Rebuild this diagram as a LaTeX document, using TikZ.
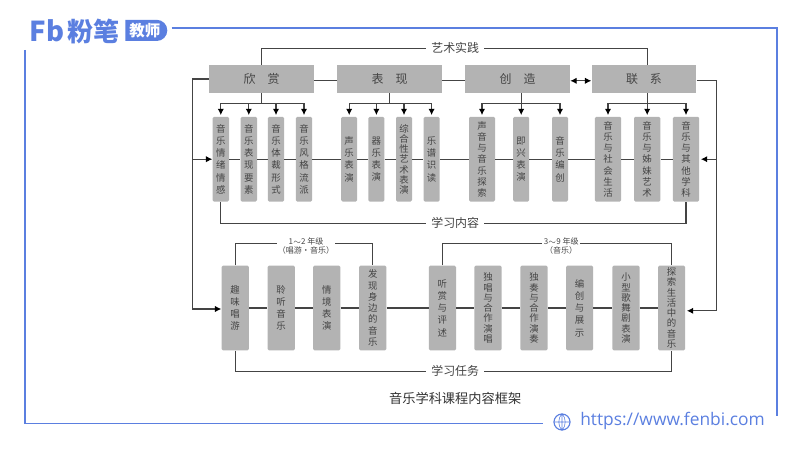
\documentclass[tikz,border=0pt]{standalone}
\usepackage{fontspec}
\setmainfont{Noto Sans CJK SC}
\usepackage{tikz}
\usetikzlibrary{arrows.meta,calc,shapes.misc}
\definecolor{fbblue}{HTML}{5B7FE0}
\definecolor{boxgray}{HTML}{B3B3B3}
\definecolor{inkgray}{HTML}{444444}
\tikzset{head/.style={fill=boxgray,inner sep=0,font=\fontsize{8.5}{10}\selectfont,text=inkgray}}
\tikzset{leaf/.style={fill=boxgray,rounded corners=1pt,inner sep=0,font=\fontsize{6.7}{8.7}\selectfont,text=inkgray,align=center}}
\tikzset{leafm/.style={leaf,font=\fontsize{6.7}{8}\selectfont}}
\tikzset{leafs/.style={leaf,font=\fontsize{6.7}{7.3}\selectfont}}
\tikzset{link/.style={draw=inkgray,line width=0.8pt}}
\tikzset{tip/.style={-{Latex[length=4.5pt,width=4.5pt,black]}}}
\tikzset{tag/.style={fill=white,inner sep=3.5pt,text=inkgray,font=\fontsize{8.5}{10}\selectfont}}
\tikzset{grade/.style={fill=white,inner sep=1pt,text=inkgray,align=center,font=\fontsize{5.7}{6.4}\selectfont}}
\tikzset{frame/.style={draw=fbblue,line width=1pt}}
\begin{document}
\begin{tikzpicture}
		\useasboundingbox (0,0) rectangle (20,11.25);
		
		% frame
		\coordinate (ftl) at (4.29,10.55);
		\coordinate (ftr) at (19.42,10.55);
		\coordinate (fre) at (19.42,0.86);
		\coordinate (fls) at (0.63,10);
		\coordinate (fbl) at (0.63,0.66);
		\coordinate (fbr) at (13.58,0.66);
		\draw[frame] (ftl) -- (ftr) -- (fre);
		\draw[frame] (fls) -- (fbl) -- (fbr);
		
		% logo
		\node[text=fbblue,inner sep=0,font=\fontsize{19.5}{20}\selectfont\bfseries] (fb) at (1.18,10.47) {Fb};
		\node[text=fbblue,inner sep=0,font=\fontsize{18.5}{19}\selectfont\bfseries] (brand) at (2.34,10.47) {粉笔};
		\node[rounded rectangle,rounded rectangle west arc=none,fill=fbblue,text=white,inner sep=0,minimum width=1.05cm,minimum height=0.53cm,font=\fontsize{11}{12}\selectfont\bfseries] (teacher) at (3.62,10.49) {教师};
		
		% address
		\node[circle,draw=fbblue,line width=0.8pt,minimum size=0.4cm,inner sep=0] (globe) at (14.05,0.7) {};
		\draw[fbblue,line width=0.4pt] (globe.north) -- (globe.south) (globe.west) -- (globe.east)
			(globe.north) to[bend left=40] (globe.south) (globe.north) to[bend right=40] (globe.south);
		\node[anchor=west,inner sep=0,text=fbblue,font=\fontsize{12.35}{13}\selectfont] (url) at (14.5,0.72) {\fontspec{Open Sans}https://www.fenbi.com};
		
		% heads
		\node[head,minimum width=2.62cm,minimum height=0.7cm] (xs) at (6.54,9.275) {欣\hspace{1em}赏};
		\node[head,minimum width=2.62cm,minimum height=0.7cm] (bx) at (9.74,9.275) {表\hspace{1em}现};
		\node[head,minimum width=2.62cm,minimum height=0.7cm] (cz) at (12.94,9.275) {创\hspace{1em}造};
		\node[head,minimum width=2.62cm,minimum height=0.7cm] (lx) at (16.1,9.275) {联\hspace{1em}系};
		
		% content boxes
		\foreach \nm/\cx/\bw/\st/\txt in {
			a1/5.52/0.41/leaf/音\\乐\\情\\绪\\情\\感,
			a2/6.22/0.41/leaf/音\\乐\\表\\现\\要\\素,
			a3/6.9/0.41/leaf/音\\乐\\体\\裁\\形\\式,
			a4/7.6/0.41/leaf/音\\乐\\风\\格\\流\\派,
			b1/8.73/0.4/leaf/声\\乐\\表\\演,
			b2/9.41/0.4/leaf/器\\乐\\表\\演,
			b3/10.1/0.4/leafs/综\\合\\性\\艺\\术\\表\\演,
			b4/10.79/0.4/leaf/乐\\谱\\识\\读,
			c1/12.05/0.65/leafm/声\\音\\与\\音\\乐\\探\\索,
			c2/13.03/0.4/leaf/即\\兴\\表\\演,
			c3/14/0.4/leaf/音\\乐\\编\\创,
			d1/15.2/0.66/leafm/音\\乐\\与\\社\\会\\生\\活,
			d2/16.18/0.66/leafm/音\\乐\\与\\姊\\妹\\艺\\术,
			d3/17.15/0.66/leafm/音\\乐\\与\\其\\他\\学\\科}
			\node[\st,minimum width=\bw cm,minimum height=2.12cm] (\nm) at (\cx,7.27) {\txt};
		
		% task boxes
		\foreach \nm/\cx/\st/\txt in {
			t1/5.88/leaf/趣\\味\\唱\\游,
			t2/7.03/leaf/聆\\听\\音\\乐,
			t3/8.17/leaf/情\\境\\表\\演,
			t4/9.32/leafm/发\\现\\身\\边\\的\\音\\乐,
			u1/11.06/leaf/听\\赏\\与\\评\\述,
			u2/12.2/leafs/独\\唱\\与\\合\\作\\演\\唱,
			u3/13.35/leafs/独\\奏\\与\\合\\作\\演\\奏,
			u4/14.49/leaf/编\\创\\与\\展\\示,
			u5/15.65/leafs/小\\型\\歌\\舞\\剧\\表\\演,
			u6/16.79/leafs/探\\索\\生\\活\\中\\的\\音\\乐}
			\node[\st,minimum width=0.68cm,minimum height=2.12cm] (\nm) at (\cx,3.55) {\txt};
		
		% through lines
		\foreach \pa/\pb in {a1/a2,a2/a3,a3/a4,a4/b1,b1/b2,b2/b3,b3/b4,b4/c1,c1/c2,c2/c3,c3/d1,d1/d2,d2/d3,
			t1/t2,t2/t3,t3/t4,t4/u1,u1/u2,u2/u3,u3/u4,u4/u5,u5/u6}
			\draw[link] (\pa.east) -- (\pb.west);
		
		% head row links
		\draw[link] (xs.east |- 0,9.23) -- (bx.west |- 0,9.23);
		\draw[link] (bx.east |- 0,9.23) -- (cz.west |- 0,9.23);
		\draw[link,{Latex[length=4.5pt,width=4.5pt,black]}-{Latex[length=4.5pt,width=4.5pt,black]}] (cz.east |- 0,9.23) -- (lx.west |- 0,9.23);
		
		% trees
		\foreach \hd/\sm/\ka/\kb in {xs/xs/a1/a4,bx/bx/b1/b4,cz/c2/c1/c3,lx/d2/d1/d3}{
			\draw[link] (\sm |- \hd.south) -- (\sm |- 0,8.67);
			\draw[link] (\ka.north |- 0,8.67) -- (\kb.north |- 0,8.67);
		}
		\foreach \kid in {a1,a2,a3,a4,b1,b2,b3,b4,c1,c2,c3,d1,d2,d3}
			\draw[link,tip,shorten >=1pt] (\kid.north |- 0,8.67) -- (\kid.north);
		
		% outer rails
		\coordinate (lrail) at (4.81,7.27);
		\coordinate (rrail) at (17.92,7.27);
		\coordinate (lm) at (4.81,3.525);
		\coordinate (rm) at (17.92,3.48);
		\draw[link] (xs.west) -- (lrail |- xs.west) -- (lm);
		\draw[link,tip] (lrail) -- (a1.west |- lrail);
		\draw[link,tip] (lm) -- (t1.west |- lm);
		\draw[link] (lx.east |- 0,9.23) -- (rrail |- 0,9.23) -- (rm);
		\draw[link,tip,shorten >=1pt] (rrail) -- (d3.east |- rrail);
		\draw[link,tip,shorten >=1pt] (rm) -- (u6.east |- rm);
		
		% art practice
		\draw[link] (xs.north) -- (xs |- 0,10.04) -- (d2 |- 0,10.04) -- (d2 |- lx.north);
		\node[tag] (art) at (11.38,10.04) {艺术实践};
		
		% study content
		\draw[link] (a1.south) -- (a1 |- 0,5.67) -- (d3 |- 0,5.67) -- (d3.south);
		\node[tag] (study) at (11.38,5.67) {学习内容};
		
		% grades
		\draw[link] (t1.north) -- (t1 |- 0,5.17) -- (t4 |- 0,5.17) -- (t4.north);
		\node[grade] (low) at (7.65,5.11) {1$\sim$2 年级\\（唱游·音乐）};
		\draw[link] (u1.north) -- (u1 |- 0,5.17) -- (u6 |- 0,5.17) -- (u6.north);
		\node[grade] (high) at (14.03,5.11) {3$\sim$9 年级\\（音乐）};
		
		% study tasks
		\draw[link] (t1.south) -- (t1 |- 0,1.96) -- (u6 |- 0,1.96) -- (u6.south);
		\node[tag] (tasks) at (11.38,1.97) {学习任务};
		
		\node[inner sep=0,text=black!80,font=\fontsize{9.4}{11}\selectfont] (cap) at (11.38,1.3) {音乐学科课程内容框架};
		
\end{tikzpicture}
\end{document}
